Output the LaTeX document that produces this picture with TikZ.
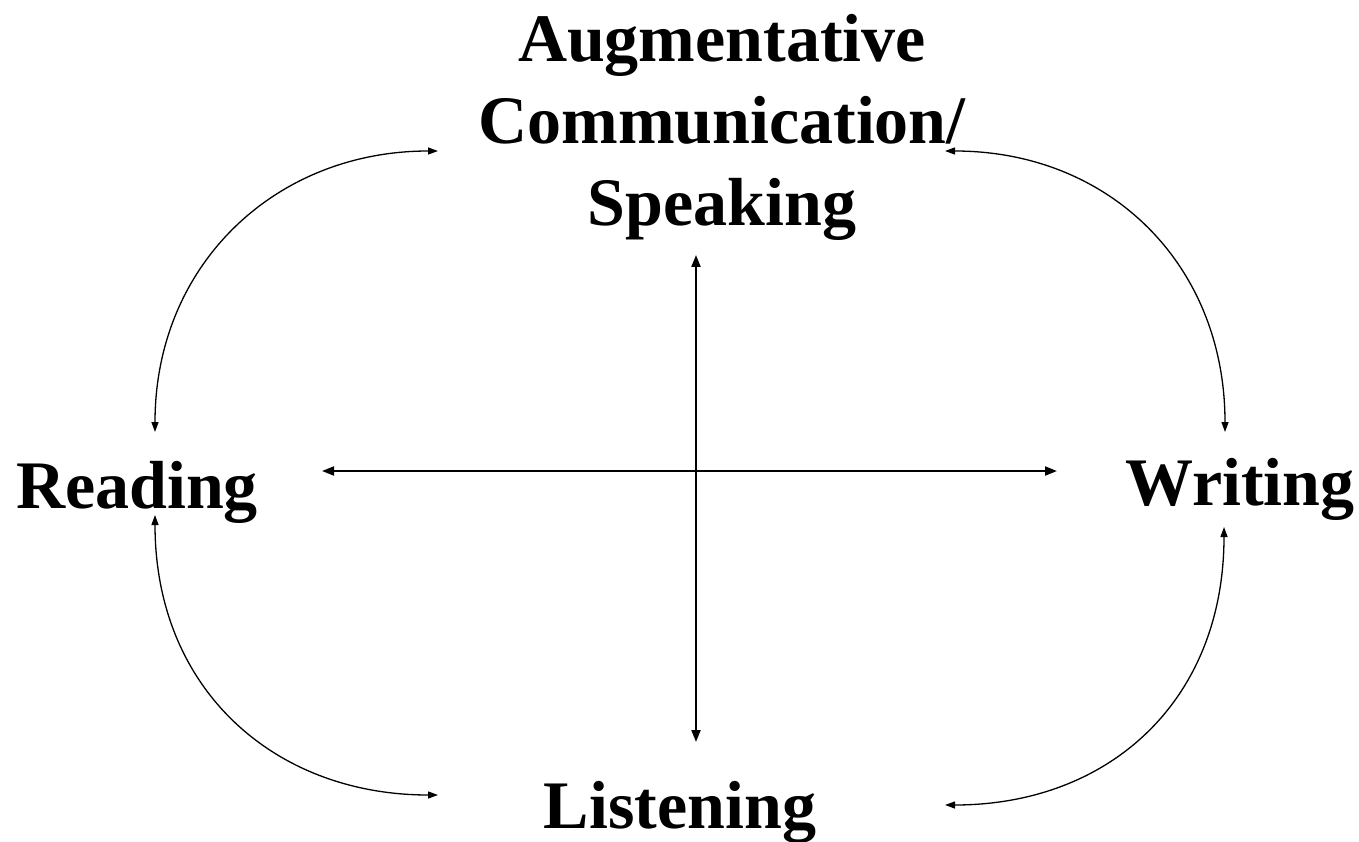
\documentclass[tikz,border=0pt]{standalone}
\usepackage{fontspec}
\setmainfont{Liberation Serif}
\usetikzlibrary{arrows.meta,calc}
\begin{document}
\begin{tikzpicture}[x=1pt,y=-1pt,
  lbl/.style={font=\fontsize{68}{82}\selectfont\bfseries, inner sep=0pt, align=center},
  conn/.style={line width=2pt, {Triangle[length=12pt,width=9pt]}-{Triangle[length=12pt,width=9pt]}},
  arcc/.style={line width=1.3pt, {Triangle[length=10pt,width=7pt]}-{Triangle[length=10pt,width=7pt]}}]
\useasboundingbox (0,0) rectangle (1359,842);
\fill[white] (0,0) rectangle (1359,842);
\node[lbl,anchor=base] (S) at (722,226) {Augmentative\\Communication/\\Speaking};
\node[lbl,anchor=base] (R) at (137,508) {Reading};
\node[lbl,anchor=base] (W) at (1240,505) {Writing};
\node[lbl,anchor=base] (L) at (680,828) {Listening};
\coordinate (Stl) at (438,151);
\coordinate (Str) at (945,151);
\coordinate (Sb) at (696,255);
\coordinate (Rt) at (155,432);
\coordinate (Rb) at (155,515);
\coordinate (Re) at (322,471);
\coordinate (Wt) at (1225,432);
\coordinate (Wb) at (1224,527);
\coordinate (Ww) at (1057,471);
\coordinate (Ll) at (438,795);
\coordinate (Lr) at (945,805);
\coordinate (Lt) at (696,742);
\draw[conn] (Re) -- (Ww);
\draw[conn] (Sb) -- (Lt);
\draw[arcc] (Rt) .. controls (155,265) and (275,151) .. (Stl);
\draw[arcc] (Str) .. controls (1110,151) and (1225,265) .. (Wt);
\draw[arcc] (Rb) .. controls (155,690) and (275,795) .. (Ll);
\draw[arcc] (Wb) .. controls (1224,700) and (1110,805) .. (Lr);
\end{tikzpicture}
\end{document}
